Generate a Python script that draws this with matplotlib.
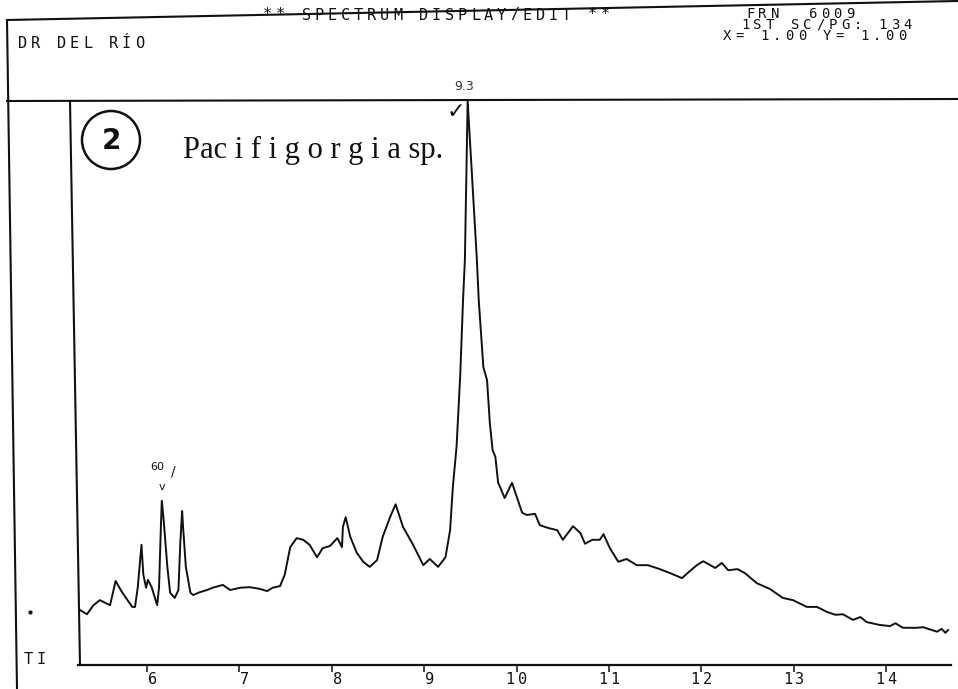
import matplotlib.pyplot as plt
from matplotlib.patches import Circle

# retention time (min) and relative intensity
time_min = [5.27, 5.35, 5.42, 5.49, 5.55, 5.60, 5.66, 5.73, 5.84, 5.87,
            5.90, 5.94, 5.96, 5.99, 6.01, 6.05, 6.11, 6.13, 6.15, 6.16,
            6.18, 6.22, 6.25, 6.30, 6.34, 6.36, 6.38, 6.39, 6.42, 6.47,
            6.50, 6.57, 6.65, 6.71, 6.82, 6.90, 7.01, 7.11, 7.22, 7.30,
            7.36, 7.44, 7.49, 7.55, 7.62, 7.69, 7.76, 7.84, 7.90, 7.98,
            8.06, 8.11, 8.12, 8.15, 8.20, 8.27, 8.34, 8.41, 8.49, 8.55,
            8.63, 8.69, 8.77, 8.88, 8.99, 9.06, 9.15, 9.23, 9.28, 9.31,
            9.35, 9.39, 9.42, 9.44, 9.47, 9.57, 9.59, 9.64, 9.68, 9.71,
            9.74, 9.77, 9.80, 9.82, 9.87, 9.95, 10.06, 10.11, 10.20, 10.25,
            10.34, 10.44, 10.50, 10.61, 10.69, 10.74, 10.82, 10.90, 10.94, 11.01,
            11.10, 11.19, 11.30, 11.42, 11.55, 11.66, 11.79, 11.85, 11.95, 12.02,
            12.15, 12.22, 12.29, 12.39, 12.47, 12.60, 12.74, 12.88, 12.99, 13.14,
            13.25, 13.36, 13.45, 13.53, 13.64, 13.72, 13.79, 13.93, 14.04, 14.10,
            14.18, 14.33, 14.40, 14.55, 14.60, 14.64, 14.67]
intensity = [9.8, 9.0, 10.6, 11.5, 11.0, 10.6, 14.9, 12.9, 10.3, 10.3,
             13.8, 21.3, 16.0, 13.7, 15.1, 13.8, 10.6, 13.8, 24.5, 29.1,
             25.7, 17.4, 12.8, 11.9, 13.3, 21.6, 27.3, 24.5, 17.4, 12.8,
             12.4, 12.9, 13.3, 13.7, 14.2, 13.3, 13.7, 13.8, 13.5, 13.1,
             13.7, 14.0, 16.0, 20.9, 22.5, 22.2, 21.3, 19.1, 20.7, 21.1,
             22.5, 20.9, 24.5, 26.2, 22.7, 19.9, 18.3, 17.4, 18.6, 22.7,
             26.2, 28.5, 24.5, 21.3, 17.7, 18.8, 17.4, 19.1, 23.9, 31.6,
             38.7, 51.5, 64.7, 71.8, 100.0, 71.8, 64.7, 52.8, 50.5, 42.9,
             38.1, 36.9, 32.3, 31.6, 29.6, 32.3, 27.0, 26.6, 26.8, 24.8,
             24.3, 23.9, 22.2, 24.6, 23.4, 21.5, 22.2, 22.2, 23.2, 20.7,
             18.3, 18.8, 17.7, 17.7, 17.0, 16.3, 15.4, 16.3, 17.7, 18.4,
             17.2, 18.1, 16.8, 17.0, 16.3, 14.5, 13.5, 11.9, 11.5, 10.3,
             10.3, 9.4, 8.9, 9.0, 8.0, 8.5, 7.6, 7.1, 6.9, 7.4,
             6.6, 6.6, 6.7, 5.9, 6.4, 5.7, 6.2]

tick_minutes = [6, 7, 8, 9, 10, 11, 12, 13, 14]
tick_labels = ["6", "7", "8", "9", "10", "11", "12", "13", "14"]

# hand-marked peaks: (time, intensity, note)
marked_peaks = [(6.16, 29.1, "60"), (9.47, 100.0, "9.3")]

header_left = "DR DEL RÍO"
header_title = "** SPECTRUM DISPLAY/EDIT **"
header_right = ["FRN  6009", "1ST SC/PG: 134", "X= 1.00 Y= 1.00"]
sample_no = "2"
sample_name = "Pac i f i g o r g i a sp."

INK = "#111111"
MONO = "DejaVu Sans Mono"


def mono(ax, x, y, s, pitch=13, size=11):
    # printer style text, one character per fixed cell
    for i, ch in enumerate(s):
        ax.text(x + i * pitch, y, ch, family=MONO, fontsize=size,
                color=INK, ha="left", va="center")


def main():
    W, H = 958, 689
    fig = plt.figure(figsize=(W / 100, H / 100), dpi=100)
    fig.patch.set_facecolor("white")

    # page frame in pixel coordinates
    frame = fig.add_axes([0, 0, 1, 1])
    frame.set_xlim(0, W)
    frame.set_ylim(H, 0)
    frame.axis("off")
    frame.plot([7, 958], [20, 1], color=INK, lw=1.5)
    frame.plot([7, 958], [101, 99], color=INK, lw=1.5)
    frame.plot([7, 17], [20, 689], color=INK, lw=1.5)
    frame.plot([70, 80], [101, 665], color=INK, lw=1.5)

    mono(frame, 18, 43, header_left)
    mono(frame, 263, 15, header_title)
    for i, line in enumerate(header_right):
        x0 = [746, 741, 723][i]
        mono(frame, x0, 13.5 + 11.5 * i, line, pitch=12.5, size=10)
    mono(frame, 24, 660, "TI")
    frame.plot([30], [612], "o", ms=2, color=INK)

    frame.add_patch(Circle((111, 140), 29, fill=False, lw=1.8, ec=INK))
    frame.text(111, 141, sample_no, fontsize=20, fontweight="bold",
               family="DejaVu Sans", ha="center", va="center", color=INK)
    frame.text(183, 150, sample_name, fontsize=22, family="Liberation Serif",
               ha="left", va="center", color=INK)

    # chromatogram axes
    ax = fig.add_axes([78 / W, (H - 665) / H, (951 - 78) / W, (665 - 101) / H])
    ax.patch.set_alpha(0)
    ax.plot(time_min, intensity, color=INK, lw=1.4, clip_on=False)
    ax.set_xlim(5.253, 14.701)
    ax.set_ylim(0, 100)
    for side in ["left", "right", "top"]:
        ax.spines[side].set_visible(False)
    ax.spines["bottom"].set_linewidth(1.6)
    ax.spines["bottom"].set_color(INK)
    ax.set_yticks([])
    ax.set_xticks(tick_minutes)
    ax.set_xticklabels([])
    ax.tick_params(axis="x", direction="out", length=5, width=1.1, colors=INK)
    for t, lab in zip(tick_minutes, tick_labels):
        for j, ch in enumerate(reversed(lab)):
            ax.annotate(ch, xy=(t, 0), xycoords=("data", "axes fraction"),
                        xytext=(1 - 12 * j, -15), textcoords="offset pixels",
                        family=MONO, fontsize=11, color=INK,
                        ha="left", va="center", annotation_clip=False)

    # hand notes on the two peaks
    t60, i60, n60 = marked_peaks[0]
    ax.annotate(n60, xy=(t60, i60), xytext=(-5, 34), textcoords="offset pixels",
                family="DejaVu Sans", fontsize=8, color=INK, ha="center", va="center")
    ax.annotate("v", xy=(t60, i60), xytext=(0, 14), textcoords="offset pixels",
                family="DejaVu Sans", fontsize=8, color=INK, ha="center", va="center")
    ax.annotate("/", xy=(t60, i60), xytext=(12, 29), textcoords="offset pixels",
                family="DejaVu Sans", fontsize=10, color=INK, ha="center", va="center")

    tp, ip, np_ = marked_peaks[1]
    ax.annotate(np_, xy=(tp, ip), xytext=(-4, 14), textcoords="offset pixels",
                family="DejaVu Sans", fontsize=9, color="#333333",
                ha="center", va="center", annotation_clip=False)
    ax.annotate("✓", xy=(tp, ip), xytext=(-12, -11), textcoords="offset pixels",
                family="DejaVu Sans", fontsize=16, color=INK,
                ha="center", va="center", annotation_clip=False)

    fig.savefig("out.png", dpi=100)


if __name__ == "__main__":
    main()
